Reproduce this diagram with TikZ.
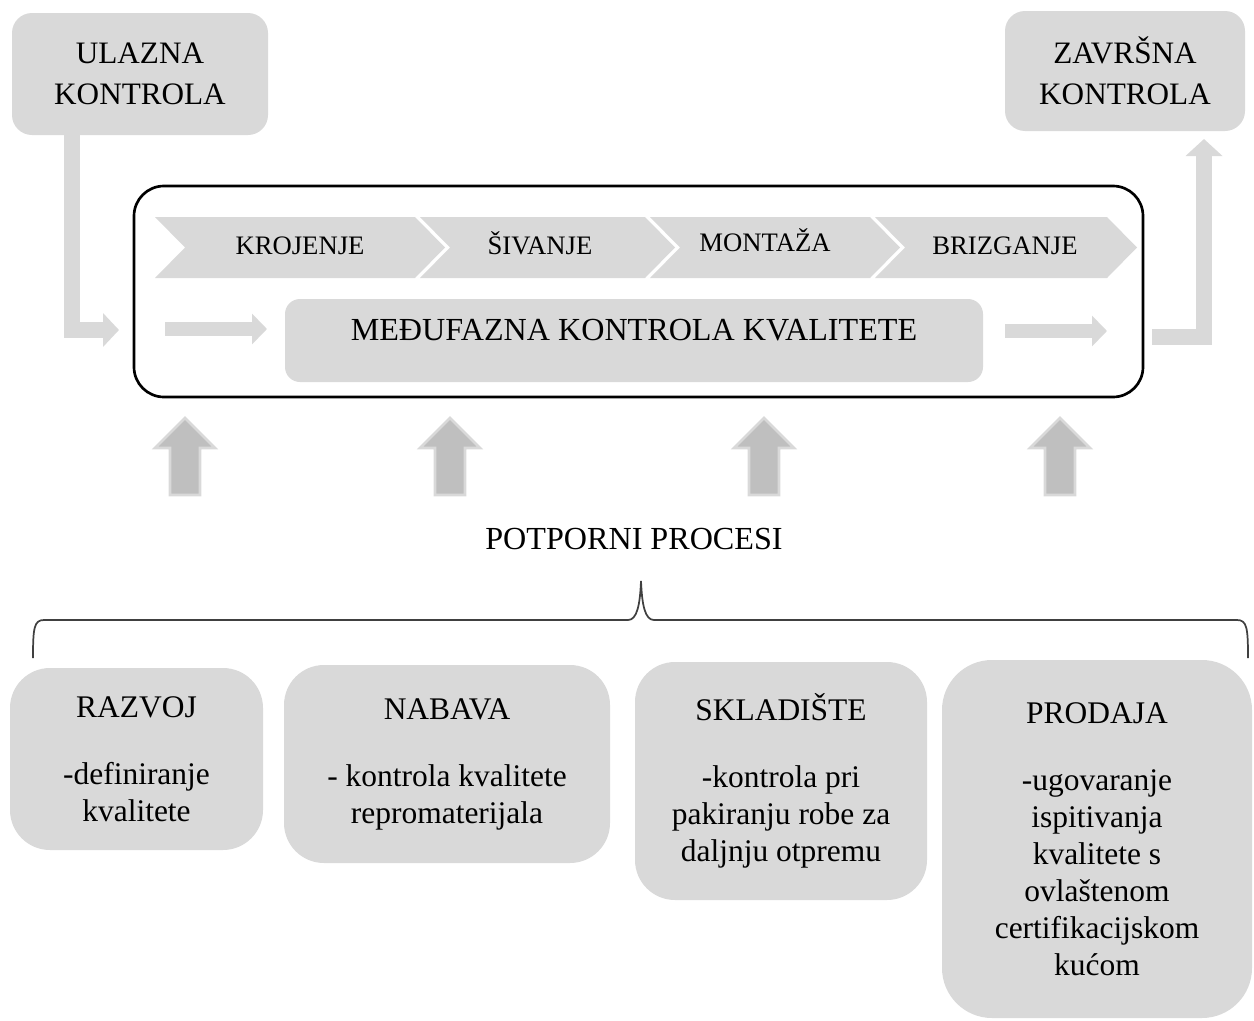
\documentclass[tikz,border=0pt]{standalone}
\usepackage{fontspec}
\setmainfont{Liberation Serif}
\usetikzlibrary{arrows.meta}
\definecolor{boxgray}{HTML}{D9D9D9}
\definecolor{arrgray}{HTML}{BFBFBF}
\definecolor{bracegray}{HTML}{404040}
\newcommand\mychev[2]{\fill[chev] (#1,217) -- (#2,217) -- ({#2+30},247.5) -- (#2,278) -- (#1,278) -- ({#1+30},247.5) -- cycle;}
\begin{document}
\begin{tikzpicture}[x=0.75pt,y=-0.75pt,
  graybox/.style={fill=boxgray, draw=none, inner sep=0pt, outer sep=0pt, align=center},
  bigtext/.style={font=\fontsize{23.6pt}{27.75pt}\selectfont},
  midtext/.style={font=\fontsize{24.1pt}{28pt}\selectfont},
  toptext/.style={font=\fontsize{23.4pt}{30.75pt}\selectfont},
  chevtext/.style={font=\fontsize{20pt}{24pt}\selectfont},
  chev/.style={fill=boxgray, draw=none},
  flow/.style={draw=boxgray, line width=12pt},
  uparrow/.style={fill=arrgray, draw=boxgray, line width=2pt, line join=miter},
]
\useasboundingbox (0,0) rectangle (1254,1021);

% top boxes
\node[graybox, toptext, rounded corners=15pt, minimum width=192pt, minimum height=91.5pt] (ulz) at (140,74) {ULAZNA\\KONTROLA};
\node[graybox, toptext, rounded corners=15pt, minimum width=180pt, minimum height=90pt] (zav) at (1125,71) {ZAVRŠNA\\KONTROLA};

% chevrons
\mychev{155}{415}
\mychev{420}{645}
\mychev{650}{870}
\mychev{875}{1107}
\node[chevtext, anchor=base] (kroj) at (300,254) {KROJENJE};
\node[chevtext, anchor=base] (siv) at (540,254) {ŠIVANJE};
\node[chevtext, anchor=base] (mont) at (765,251) {MONTAŽA};
\node[chevtext, anchor=base] (briz) at (1005,254) {BRIZGANJE};

% main frame
\node[draw=black, line width=2pt, rounded corners=22.5pt, minimum width=756.75pt, minimum height=158.25pt, inner sep=0pt, outer sep=0pt] (frame) at (638.5,291.5) {};

% inter-phase control
\node[graybox, rounded corners=11.25pt, minimum width=523.5pt, minimum height=62.25pt] (mk) at (634,340.5) {};
\node[midtext, anchor=base] (mktext) at (634,340) {MEĐUFAZNA KONTROLA KVALITETE};

% arrows
\coordinate (inL) at (119,330);
\draw[flow, -{Triangle[length=12pt,width=24.75pt]}] ([xshift=-51pt]ulz.south) |- (inL);
\coordinate (outR) at (1152,336.5);
\draw[flow, -{Triangle[length=12.75pt,width=27pt]}] (outR) -| ([xshift=59.25pt, yshift=-6pt]zav.south);
\coordinate (s1a) at (165,329);
\coordinate (s1b) at (267,329);
\draw[flow, line width=10.5pt, -{Triangle[length=11.25pt,width=22.5pt]}] (s1a) -- (s1b);
\coordinate (s2a) at (1005,331);
\coordinate (s2b) at (1107,331);
\draw[flow, line width=10.5pt, -{Triangle[length=11.25pt,width=22.5pt]}] (s2a) -- (s2b);

% up arrows
\foreach \cx in {185,450,764,1060} {
  \draw[uparrow] (\cx,418) -- ++(30,30) -- ++(-15,0) -- ++(0,47) -- ++(-30,0) -- ++(0,-47) -- ++(-15,0) -- cycle;
}

% support processes
\node[midtext, anchor=base] (pp) at (634,549) {POTPORNI PROCESI};
\draw[bracegray, line width=1.3pt] (33,658) .. controls (33,628) and (34,620) .. (44,620) -- (628,620) .. controls (637,620) and (640,605) .. (641,581) .. controls (642,605) and (645,620) .. (654,620) -- (1237,620) .. controls (1247,620) and (1248,628) .. (1248,658);

% bottom boxes
\node[graybox, bigtext, rounded corners=30pt, minimum width=189.75pt, minimum height=136.5pt] (razvoj) at (136.5,759) {RAZVOJ\\[22.5pt]-definiranje\\kvalitete};
\node[graybox, bigtext, rounded corners=30pt, minimum width=244.5pt, minimum height=148.5pt] (nabava) at (447,764) {NABAVA\\[22.5pt]- kontrola kvalitete\\repromaterijala};
\node[graybox, bigtext, rounded corners=30pt, minimum width=219pt, minimum height=178.5pt] (sklad) at (781,781) {SKLADIŠTE\\[22.5pt]-kontrola pri\\pakiranju robe za\\daljnju otpremu};
\node[graybox, bigtext, rounded corners=37.5pt, minimum width=232.5pt, minimum height=268.5pt] (prodaja) at (1097,839) {PRODAJA\\[22.5pt]-ugovaranje\\ispitivanja\\kvalitete s\\ovlaštenom\\certifikacijskom\\kućom};
\end{tikzpicture}
\end{document}
